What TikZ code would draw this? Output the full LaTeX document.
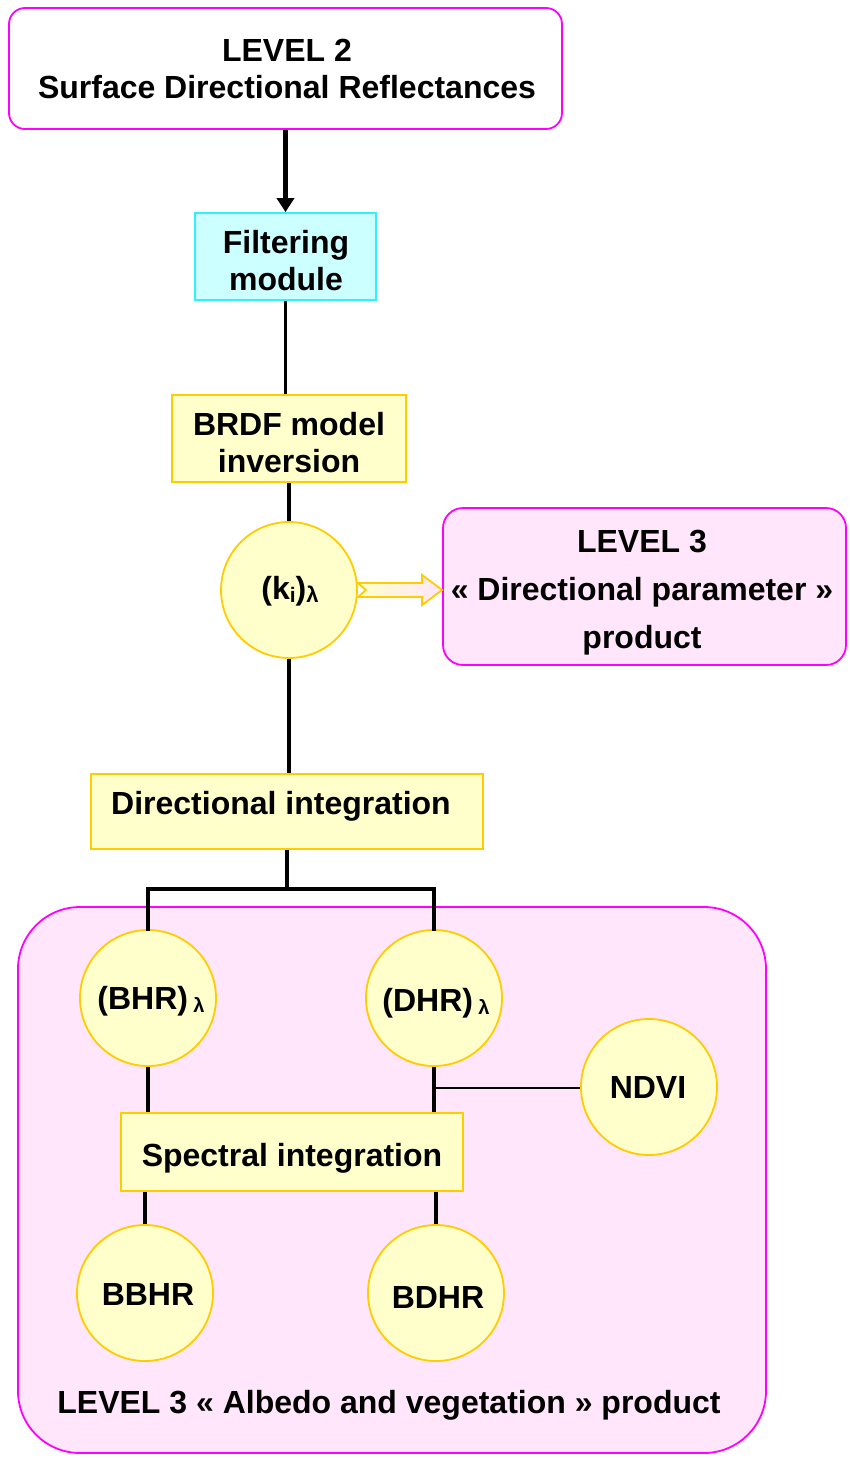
\documentclass[tikz,border=0pt]{standalone}
\usepackage{fontspec}
\setmainfont{Liberation Sans}
\usetikzlibrary{arrows.meta,calc}
\definecolor{magB}{HTML}{FF00FF}
\definecolor{pinkF}{HTML}{FFE6FB}
\definecolor{yelF}{HTML}{FFFFCC}
\definecolor{yelB}{HTML}{FFCC00}
\definecolor{cyanF}{HTML}{CCFFFF}
\definecolor{cyanB}{HTML}{33EEFF}
\tikzset{
  txt/.style={font=\bfseries\fontsize{32}{37}\selectfont, anchor=base, inner sep=0pt},
  ybox/.style={draw=yelB, fill=yelF, line width=1.8pt, inner sep=0pt},
  cbox/.style={draw=cyanB, fill=cyanF, line width=1.8pt, inner sep=0pt},
  ycirc/.style={circle, draw=yelB, fill=yelF, line width=1.8pt, inner sep=0pt, minimum size=136pt},
  pbox/.style={draw=magB, fill=pinkF, line width=1.8pt, inner sep=0pt},
  conn/.style={draw=black, line width=3.6pt},
  thinconn/.style={draw=black, line width=2pt},
}
\newcommand{\lam}[1]{\raisebox{-3pt}{\fontsize{#1}{#1}\selectfont λ}}
\begin{document}
\begin{tikzpicture}[x=1pt,y=-1pt]
\useasboundingbox (0,0) rectangle (850,1458);
% big product box
\node[pbox, rounded corners=62pt, minimum width=748pt, minimum height=546pt] (big) at (392,1180) {};
% top box
\node[draw=magB, fill=white, line width=1.8pt, rounded corners=16pt, minimum width=553pt, minimum height=121pt, inner sep=0pt] (l2) at (285.5,68.5) {};
\node[txt] (l2a) at (287,62) {LEVEL 2};
\node[txt] (l2b) at (287,99) {Surface Directional Reflectances};
% filtering
\node[cbox, minimum width=181pt, minimum height=87pt] (filt) at (285.5,256.5) {};
\node[txt] (filta) at (286,253) {Filtering};
\node[txt] (filtb) at (286,290) {module};
% BRDF
\node[ybox, minimum width=234pt, minimum height=87pt] (brdf) at (289,438.5) {};
\node[txt] (brdfa) at (289,435) {BRDF model};
\node[txt] (brdfb) at (289,472) {inversion};
% ki circle
\node[ycirc] (ki) at (289,590) {};
\node[anchor=base, inner sep=0pt] (kit) at (290,599) {\bfseries\fontsize{32}{36}\selectfont (k\raisebox{-3pt}{\fontsize{21}{21}\selectfont i})\lam{22}};
% level 3 directional
\node[pbox, rounded corners=20pt, minimum width=403pt, minimum height=157pt] (l3d) at (644.5,586.5) {};
\node[txt] (l3da) at (642,552) {LEVEL 3};
\node[txt] (l3db) at (642,600) {« Directional parameter »};
\node[txt] (l3dc) at (642,648) {product};
% directional integration
\node[ybox, minimum width=392pt, minimum height=75pt] (dint) at (287,811.5) {};
\node[txt] (dintt) at (281,814) {Directional integration};
% BHR, DHR
\node[ycirc] (bhr) at (148,998) {};
\node[txt] (bhrt) at (151,1009) {(BHR)\,\lam{20}};
\node[ycirc] (dhr) at (434,998) {};
\node[txt] (dhrt) at (436,1011) {(DHR)\,\lam{20}};
% NDVI
\node[ycirc] (ndvi) at (649,1087) {};
\node[txt] (ndvit) at (648,1098) {NDVI};
% spectral
\node[ybox, minimum width=342pt, minimum height=78pt] (spec) at (292,1152) {};
\node[txt] (spect) at (292,1166) {Spectral integration};
% BBHR, BDHR
\node[ycirc] (bbhr) at (145,1293) {};
\node[txt] (bbhrt) at (148,1305) {BBHR};
\node[ycirc] (bdhr) at (436,1293) {};
\node[txt] (bdhrt) at (438,1308) {BDHR};
% bottom label
\node[txt] (blab) at (389,1413) {LEVEL 3 « Albedo and vegetation » product};
% connectors
\draw[line width=5pt, -{Triangle[width=17pt,length=14pt]}] (l2.south -| filt.north) -- (filt.north);
\draw[conn] (filt.south) -- (filt.south |- brdf.north);
\draw[conn] (brdf.south -| ki.north) -- (ki.north);
\draw[conn] (ki.south) -- (ki.south |- dint.north);
\coordinate (split) at (287,889);
\draw[conn] (dint.south -| split) -- (split);
\draw[conn, line cap=rect] (bhr.north) |- (split) -| (dhr.north);
\draw[conn] (bhr.south) -- (bhr.south |- spec.north);
\draw[conn] (dhr.south) -- (dhr.south |- spec.north);
\coordinate (ndj) at ($(dhr.south)+(0,21)$);
\draw[thinconn] (ndj) -- (ndj -| ndvi.west);
\draw[conn] (bbhr.north |- spec.south) -- (bbhr.north);
\draw[conn] (bdhr.north |- spec.south) -- (bdhr.north);
% hollow arrow
\coordinate (ahead) at (l3d.west |- ki.east);
\path[draw=yelB, line width=1.8pt, left color=yelF, right color=pinkF, line join=miter]
  ($(ki.east)+(0,-7)$) -- ($(ahead)+(-20,-7)$) -- ($(ahead)+(-20,-15)$) -- (ahead)
  -- ($(ahead)+(-20,15)$) -- ($(ahead)+(-20,7)$) -- ($(ki.east)+(0,7)$) -- ($(ki.east)+(8,0)$) -- cycle;
\end{tikzpicture}
\end{document}
